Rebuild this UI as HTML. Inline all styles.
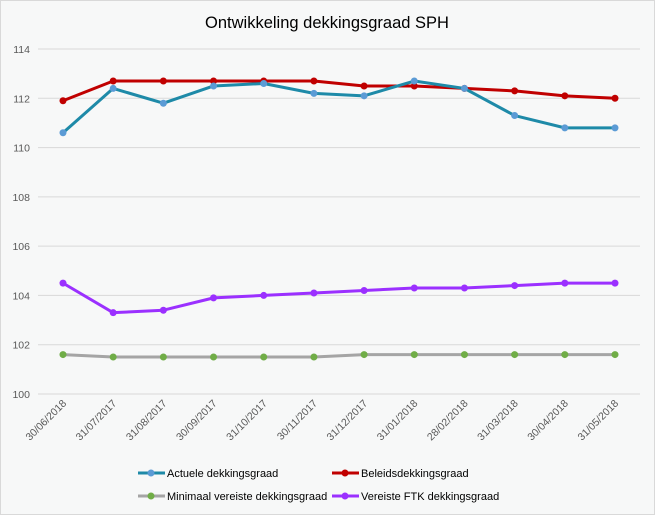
<!DOCTYPE html>
<html><head><meta charset="utf-8"><style>
body{margin:0;background:#fff}
svg{display:block;font-family:"Liberation Sans",sans-serif}
</style></head><body>
<svg id="c" width="655" height="515">
<rect x="0.5" y="0.5" width="654" height="514" fill="#f7f8f8" stroke="#d9d9d9"/>
<text x="327" y="28" text-anchor="middle" font-size="16.5" fill="#000">Ontwikkeling dekkingsgraad SPH</text>
<g id="grid"></g><g id="series"></g><g id="xl"></g>
<g>
<g><line x1="138" y1="473" x2="165" y2="473" stroke="#1e8aa8" stroke-width="3"/><circle cx="151" cy="473" r="3.5" fill="#5b9bd5"/><text x="167" y="477" font-size="11">Actuele dekkingsgraad</text></g>
<g><line x1="332" y1="473" x2="359" y2="473" stroke="#c00000" stroke-width="3"/><circle cx="345" cy="473" r="3.5" fill="#c00000"/><text x="361" y="477" font-size="11">Beleidsdekkingsgraad</text></g>
<g><line x1="138" y1="496" x2="165" y2="496" stroke="#a5a5a5" stroke-width="3"/><circle cx="151" cy="496" r="3.5" fill="#70ad47"/><text x="167" y="500" font-size="11">Minimaal vereiste dekkingsgraad</text></g>
<g><line x1="332" y1="496" x2="359" y2="496" stroke="#9b30ff" stroke-width="3"/><circle cx="345" cy="496" r="3.5" fill="#9b30ff"/><text x="361" y="500" font-size="11">Vereiste FTK dekkingsgraad</text></g>
</g>
</svg>
<script>
const categories=["30/06/2018","31/07/2017","31/08/2017","30/09/2017","31/10/2017","30/11/2017","31/12/2017","31/01/2018","28/02/2018","31/03/2018","30/04/2018","31/05/2018"];
const actuele=[110.6,112.4,111.8,112.5,112.6,112.2,112.1,112.7,112.4,111.3,110.8,110.8];
const beleids=[111.9,112.7,112.7,112.7,112.7,112.7,112.5,112.5,112.4,112.3,112.1,112.0];
const minimaal=[101.6,101.5,101.5,101.5,101.5,101.5,101.6,101.6,101.6,101.6,101.6,101.6];
const vereiste=[104.5,103.3,103.4,103.9,104.0,104.1,104.2,104.3,104.3,104.4,104.5,104.5];
const yTicks=[100,102,104,106,108,110,112,114];
const NS="http://www.w3.org/2000/svg";
function y(v){return 394-(v-100)*(345/14);}
function x(i){return 63+i*(552/11);}
function mk(t,a,p){const e=document.createElementNS(NS,t);for(const k in a)e.setAttribute(k,a[k]);p.appendChild(e);return e;}
const grid=document.getElementById('grid');
yTicks.forEach(t=>{
 const l=mk('line',{x1:38,x2:640,y1:y(t),y2:y(t),stroke:'#d9d9d9'},grid);
 
 
 const tx=mk('text',{x:30,y:y(t)+4,'text-anchor':'end','font-size':10.5,fill:'#595959'},grid);
 tx.textContent=t;
 
 
});
const xl=document.getElementById('xl');
categories.forEach((c,i)=>{
 const tx=mk('text',{transform:`translate(${x(i)+4},${404}) rotate(-45)`,'text-anchor':'end','font-size':10.5,fill:'#595959'},xl);
 tx.textContent=c;
 
 
});
const S=document.getElementById('series');
[[minimaal,'#a5a5a5','#70ad47','minimaal'],[vereiste,'#9b30ff','#9b30ff','vereiste-ftk'],[beleids,'#c00000','#c00000','beleids'],[actuele,'#1e8aa8','#5b9bd5','actuele']].forEach(([d,lc,mc,n])=>{
 const g=mk('g',{},S);
 
 
 const p=mk('polyline',{points:d.map((v,i)=>x(i)+','+y(v)).join(' '),fill:'none',stroke:lc,'stroke-width':3,'stroke-linejoin':'round'},g);
 
 
 d.forEach((v,i)=>{
  const c=mk('circle',{cx:x(i),cy:y(v),r:3.5,fill:mc},g);
  
  
 });
});
</script>
</body></html>
